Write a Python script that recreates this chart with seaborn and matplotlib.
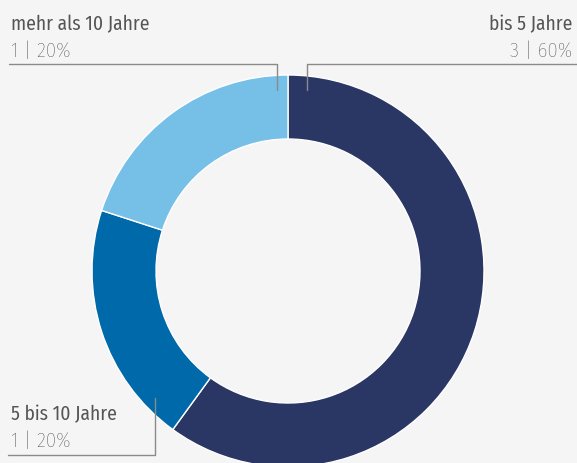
import matplotlib
matplotlib.use("Agg")
import matplotlib.pyplot as plt
import seaborn as sns

categories = ["bis 5 Jahre", "5 bis 10 Jahre", "mehr als 10 Jahre"]
counts = [3, 1, 1]
shares = [60, 20, 20]
value_labels = ["3 | 60%", "1 | 20%", "1 | 20%"]
colors = ["#2a3764", "#0069aa", "#76c0e8"]

sns.set_theme(style="white")
plt.rcParams["font.family"] = ["Fira Sans Condensed", "DejaVu Sans"]

W, H = 577, 464
bg = "#f5f5f5"
fig = plt.figure(figsize=(W / 100, H / 100), dpi=100, facecolor=bg)
ax = fig.add_axes([0, 0, 1, 1])
ax.set_facecolor(bg)

cx, cy, R, r = 288, H - 272, 196, 132
ax.pie(counts, colors=colors, startangle=90, counterclock=False,
       center=(cx, cy), radius=R, frame=True,
       wedgeprops=dict(width=R - r, edgecolor="white", linewidth=1))
ax.set_xlim(0, W)
ax.set_ylim(0, H)
ax.set_aspect("equal")
ax.axis("off")

lc = "#8a8a8a"
fs = 14
vfs = 15
vcol = "#454545"
def Y(y):
    return H - y

# bis 5 Jahre
ax.plot([307, 307, W], [Y(91), Y(65), Y(65)], color=lc, lw=1)
ax.text(572, Y(24), categories[0], ha="right", va="center", fontsize=fs, color="#555555")
ax.text(572, Y(51), value_labels[0], ha="right", va="center", fontsize=vfs, color=vcol, fontweight="light")
# mehr als 10 Jahre
ax.plot([277, 277, 9], [Y(91), Y(65), Y(65)], color=lc, lw=1)
ax.text(11, Y(24), categories[2], ha="left", va="center", fontsize=fs, color="#555555")
ax.text(11, Y(51), value_labels[2], ha="left", va="center", fontsize=vfs, color=vcol, fontweight="light")
# 5 bis 10 Jahre
ax.plot([155, 155, 8], [Y(399), Y(456), Y(456)], color=lc, lw=1)
ax.text(11, Y(414), categories[1], ha="left", va="center", fontsize=fs, color="#555555")
ax.text(11, Y(441), value_labels[1], ha="left", va="center", fontsize=vfs, color=vcol, fontweight="light")

fig.savefig("out.png", dpi=100, facecolor=bg)
